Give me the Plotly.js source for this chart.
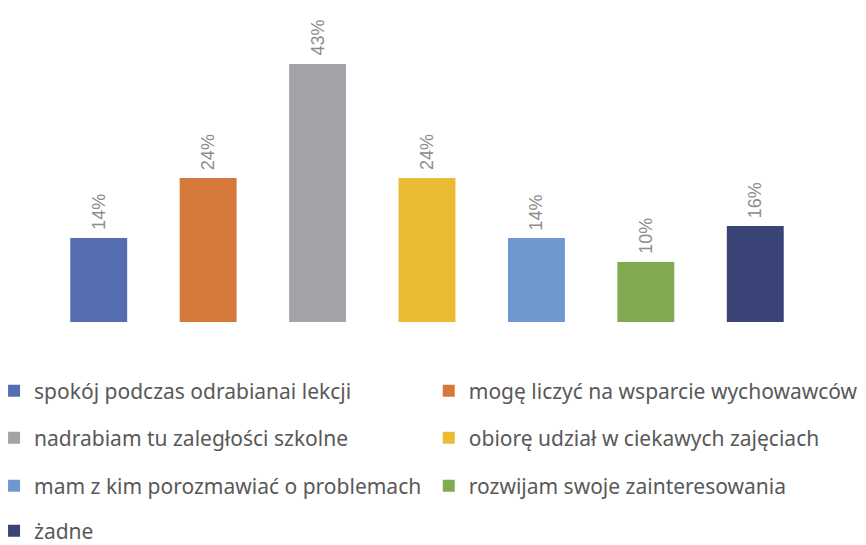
<!DOCTYPE html>
<html>
<head>
<meta charset="utf-8">
<script src="https://cdn.plot.ly/plotly-3.0.1.min.js"></script>
<style>
  html, body { margin: 0; padding: 0; background: #fff; }
  #chart { width: 866px; height: 545px; }
</style>
</head>
<body>
<div id="chart"></div>
<script>
// odpowiedzi (kategorie) i wartości w %
var categories = [
    'spokój podczas odrabianai lekcji',
    'mogę liczyć na wsparcie wychowawców',
    'nadrabiam tu zaległości szkolne',
    'obiorę udział w ciekawych zajęciach',
    'mam z kim porozmawiać o problemach',
    'rozwijam swoje zainteresowania',
    'żadne'
];
var values = [14, 24, 43, 24, 14, 10, 16];
var labels = ['14%', '24%', '43%', '24%', '14%', '10%', '16%'];
var colors = ['#566eb1', '#d4793a', '#a4a4a8', '#ebbb33', '#6f98d0', '#82ab51', '#3a4477'];

// legend laid out as 2 columns x 4 rows, one small legend per entry
var colX = [-0.0652, 0.5023];
var rowY = [391, 438, 486, 531];

var data = categories.map(function(name, i) {
    return {
        type: 'bar',
        name: name,
        x: [name],
        y: [values[i]],
        marker: {color: colors[i], line: {width: 0}},
        legend: i === 0 ? 'legend' : 'legend' + (i + 1),
        hoverinfo: 'skip'
    };
});

var annotations = categories.map(function(name, i) {
    return {
        x: name,
        y: values[i],
        xref: 'x',
        yref: 'y',
        text: labels[i],
        textangle: -90,
        showarrow: false,
        xanchor: 'center',
        yanchor: 'bottom',
        yshift: 6,
        font: {family: 'Liberation Sans, Arial, sans-serif', size: 18, color: '#8c8c8c'}
    };
});

var legendFont = {family: 'Noto Sans, sans-serif', size: 21, color: '#595959'};

var layout = {
    width: 866,
    height: 545,
    margin: {l: 44, r: 55.5, t: 22, b: 223, autoexpand: false},
    paper_bgcolor: '#ffffff',
    plot_bgcolor: '#ffffff',
    barmode: 'overlay',
    bargap: 0.48,
    xaxis: {
        type: 'category',
        categoryarray: categories,
        range: [-0.5, 6.5],
        visible: false
    },
    yaxis: {
        range: [0, 50],
        visible: false
    },
    annotations: annotations,
    showlegend: true
};

categories.forEach(function(name, i) {
    var key = i === 0 ? 'legend' : 'legend' + (i + 1);
    layout[key] = {
        orientation: 'h',
        xref: 'paper',
        yref: 'container',
        x: colX[i % 2],
        xanchor: 'left',
        y: 1 - rowY[Math.floor(i / 2)] / 545,
        yanchor: 'middle',
        font: legendFont,
        bgcolor: 'rgba(0,0,0,0)'
    };
});

Plotly.newPlot('chart', data, layout, {displayModeBar: false, staticPlot: true});
</script>
</body>
</html>
